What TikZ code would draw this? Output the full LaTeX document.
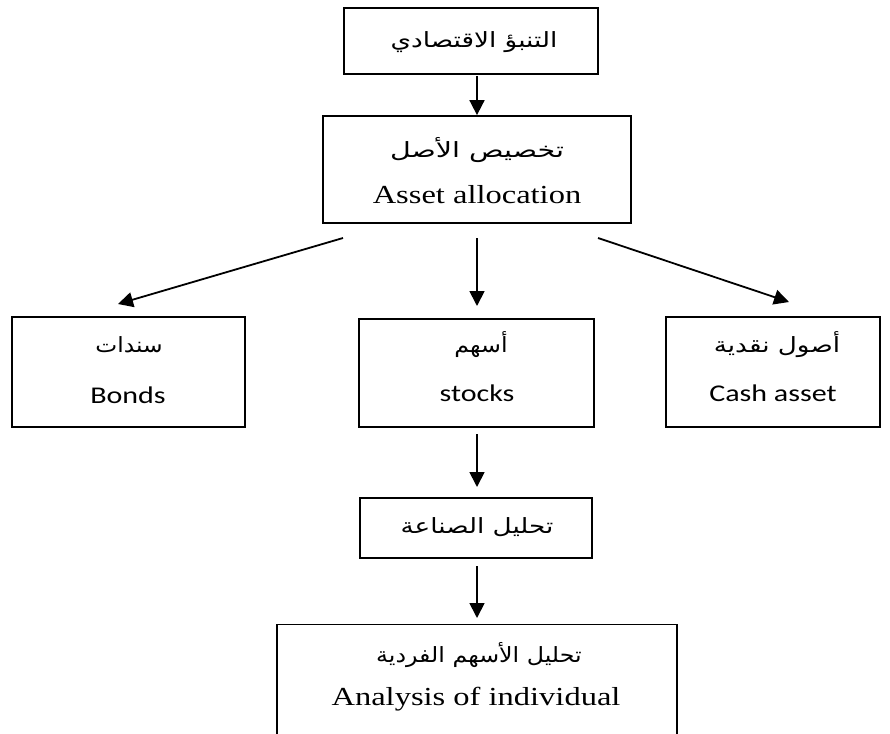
\documentclass[tikz,border=0pt]{standalone}
\usepackage{fontspec}
\usepackage{graphicx}
\setmainfont{Liberation Serif}
\newfontfamily\arabicfont[Script=Arabic]{DejaVu Sans}
\newfontfamily\calfont{Carlito}
\TeXXeTstate=1
\usetikzlibrary{arrows.meta}
\newcommand{\hs}[2][1.25]{\scalebox{#1}[1]{#2}}
\newcommand{\artext}[1]{{\arabicfont\beginR #1\endR}}
\tikzset{
  box/.style={draw, line width=1.8pt, inner sep=0pt},
  arr/.style={line width=1.8pt, -{Triangle[length=15pt,width=15pt]}},
  tms/.style={inner sep=0pt, font=\fontsize{26}{30}\selectfont},
  cal/.style={inner sep=0pt, font=\calfont\fontsize{24}{28}\selectfont},
  arb/.style={inner sep=0pt, font=\arabicfont\fontsize{21}{26}\selectfont},
}
\begin{document}
\begin{tikzpicture}[x=1pt,y=-1pt]
\clip (0,0) rectangle (890,733);
\fill[white] (0,0) rectangle (890,733);
% boxes
\node[box, minimum width=254pt, minimum height=66pt] (forecast) at (471,41) {};
\node[box, minimum width=308pt, minimum height=107pt] (alloc) at (477,169.5) {};
\node[box, minimum width=233pt, minimum height=110pt] (bonds) at (128.5,372) {};
\node[box, minimum width=235pt, minimum height=108pt] (stocks) at (476.5,373) {};
\node[box, minimum width=214pt, minimum height=110pt] (cash) at (773,372) {};
\node[box, minimum width=232pt, minimum height=60pt] (industry) at (476,528) {};
\node[box, minimum width=400pt, minimum height=135pt] (indiv) at (477,692) {};
% texts
\node[arb] (t1) at (474,42) {\hs{\artext{التنبؤ الاقتصادي}}};
\node[arb] (t2a) at (477,150) {\hs[1.36]{\artext{تخصيص الأصل}}};
\node[tms] (t2b) at (477,195) {\hs{Asset allocation}};
\node[arb] (t3a) at (129,345) {\hs[1.11]{\artext{سندات}}};
\node[cal] (t3b) at (128,395) {\hs{Bonds}};
\node[arb] (t4a) at (481,345) {\hs[1.13]{\artext{أسهم}}};
\node[cal] (t4b) at (477,393) {\hs{stocks}};
\node[arb] (t5a) at (777,345) {\hs{\artext{أصول نقدية}}};
\node[cal] (t5b) at (773,393) {\hs{Cash asset}};
\node[arb] (t6) at (477,527) {\hs{\artext{تحليل الصناعة}}};
\node[arb] (t7a) at (479,655) {\hs[1.13]{\artext{تحليل الأسهم الفردية}}};
\node[tms] (t7b) at (476,699) {\hs{Analysis of individual}};
% connector end points
\coordinate (f0) at (477,76);
\coordinate (b0) at (343,238);
\coordinate (b1) at (118,304);
\coordinate (s0) at (477,238);
\coordinate (s1) at (477,306);
\coordinate (c0) at (598,238);
\coordinate (c1) at (789,302);
\coordinate (i0) at (477,434);
\coordinate (i1) at (477,487);
\coordinate (d0) at (477,566);
\coordinate (d1) at (477,618);
% connectors
\draw[arr] (f0) -- (f0 |- alloc.north);
\draw[arr] (b0) -- (b1);
\draw[arr] (s0) -- (s1);
\draw[arr] (c0) -- (c1);
\draw[arr] (i0) -- (i1);
\draw[arr] (d0) -- (d1);
\end{tikzpicture}
\end{document}
